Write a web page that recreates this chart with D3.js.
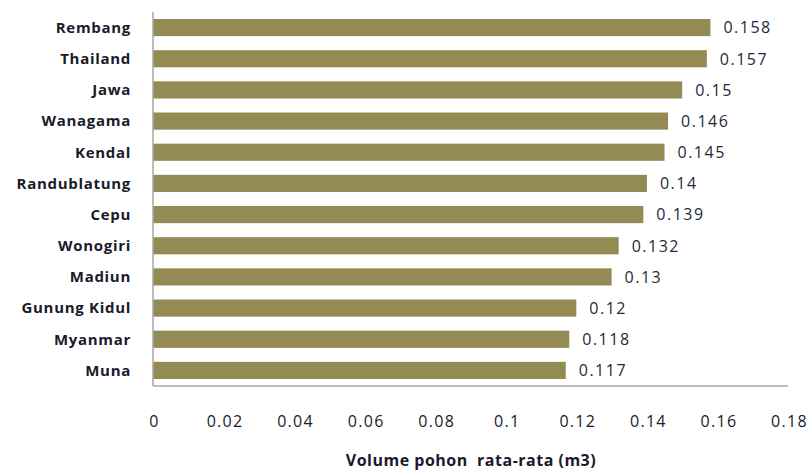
<!DOCTYPE html>
<html><head><meta charset="utf-8">
<script src="https://cdn.jsdelivr.net/npm/d3@7"></script>
<style>body{margin:0;background:#fff}svg{display:block}</style>
</head><body>
<svg id="c" width="811" height="471"></svg>
<script>
const categories = ["Rembang","Thailand","Jawa","Wanagama","Kendal","Randublatung","Cepu","Wonogiri","Madiun","Gunung Kidul","Myanmar","Muna"];
const values = [0.158,0.157,0.15,0.146,0.145,0.14,0.139,0.132,0.13,0.12,0.118,0.117];
const xTicks = [0,0.02,0.04,0.06,0.08,0.1,0.12,0.14,0.16,0.18];
const xTitle = "Volume pohon  rata-rata (m3)";

const svg = d3.select("#c");
const font = "'Open Sans', sans-serif";
const x = d3.scaleLinear().domain([0,0.18]).range([153,788]);
const y = d3.scaleBand().domain(categories).range([12,386]).paddingInner(0.45).paddingOuter(0.225);

svg.selectAll("rect.bar").data(values).enter().append("rect")
  .attr("x", x(0)).attr("y",(d,i)=>y(categories[i]))
  .attr("width", d=>x(d)-x(0)).attr("height", y.bandwidth())
  .attr("fill","#948A54");

svg.selectAll("text.val").data(values).enter().append("text")
  .attr("x", d=>x(d)+13).attr("y",(d,i)=>y(categories[i])+y.bandwidth()/2)
  .attr("dy","0.36em").attr("font-family",font).attr("font-size",16).attr("letter-spacing",1.5).attr("fill","#1f2a3a")
  .text(d=>String(d));

// y axis labels
svg.selectAll("text.cat").data(categories).enter().append("text")
  .attr("x",131).attr("y",d=>y(d)+y.bandwidth()/2).attr("dy","0.36em")
  .attr("text-anchor","end").attr("font-family",font).attr("font-weight","bold")
  .attr("font-size",15).attr("letter-spacing",0.7).attr("fill","#1a1a2a").text(d=>d);

// axis lines
svg.append("line").attr("x1",x(0)).attr("x2",x(0)).attr("y1",12).attr("y2",386).attr("stroke","#a6a6a6").attr("stroke-width",1.5);
svg.append("line").attr("x1",x(0)).attr("x2",x(0.18)).attr("y1",386).attr("y2",386).attr("stroke","#a6a6a6").attr("stroke-width",1.5);

svg.selectAll("text.tick").data(xTicks).enter().append("text")
  .attr("x",d=>x(d)+1.5).attr("y",421).attr("dy","0.36em").attr("text-anchor","middle")
  .attr("font-family",font).attr("font-size",16).attr("letter-spacing",1.3).attr("fill","#1a1a2a")
  .text(d=>String(d));

svg.append("text").attr("x",471).attr("y",460).attr("dy","0.36em").attr("text-anchor","middle")
  .attr("font-family",font).attr("font-weight","bold").attr("font-size",16).attr("letter-spacing",0.5).attr("fill","#1a1a2a")
  .attr("xml:space","preserve").style("white-space","pre").text(xTitle);
</script>
</body></html>
